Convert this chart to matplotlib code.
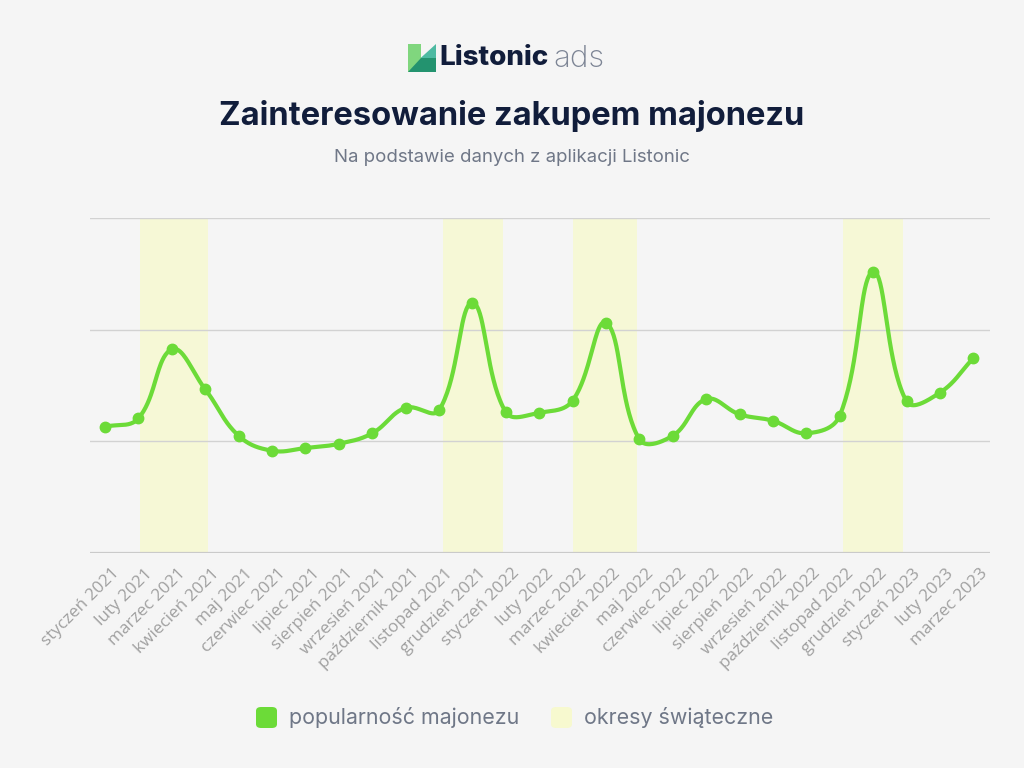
import numpy as np
import matplotlib
matplotlib.use('Agg')
import matplotlib.pyplot as plt
from matplotlib.patches import Polygon, FancyBboxPatch
from matplotlib.transforms import ScaledTranslation

# dane
months = ['styczeń 2021', 'luty 2021', 'marzec 2021', 'kwiecień 2021', 'maj 2021',
          'czerwiec 2021', 'lipiec 2021', 'sierpień 2021', 'wrzesień 2021',
          'październik 2021', 'listopad 2021', 'grudzień 2021', 'styczeń 2022',
          'luty 2022', 'marzec 2022', 'kwiecień 2022', 'maj 2022', 'czerwiec 2022',
          'lipiec 2022', 'sierpień 2022', 'wrzesień 2022', 'październik 2022',
          'listopad 2022', 'grudzień 2022', 'styczeń 2023', 'luty 2023', 'marzec 2023']
popularity = [56.5, 60.3, 91.2, 73.3, 52.5, 45.8, 47.0, 48.9, 53.6, 65.0, 63.9, 112.0,
              63.1, 62.8, 68.2, 103.1, 50.9, 52.5, 68.9, 62.1, 59.2, 53.6, 61.5, 125.9,
              67.9, 71.8, 87.2]
# okresy świąteczne (pozycje na osi miesięcy)
holiday_start = [1.06, 10.11, 14.01, 22.1]
holiday_end = [3.07, 11.92, 15.93, 23.9]

GREEN = '#6cdb38'
BAND = '#f6f8d6'
BG = '#f5f5f5'
NAVY = '#111d3b'
GRAY = '#6f7787'

W, H = 1024, 768
fig = plt.figure(figsize=(W / 100, H / 100), dpi=100, facecolor=BG)


def fx(px):
    return px / W


def fy(py):
    return 1 - py / H


# logo
lx0, lx1, ly0, ly1 = 408, 436, 44, 72
def lp(u, v):
    return (fx(lx0 + u * (lx1 - lx0)), fy(ly1 - v * (ly1 - ly0)))

fig.patches.append(Polygon([lp(0, 0), lp(0.45, 0), lp(0.45, 1), lp(0, 1)], closed=True,
                           transform=fig.transFigure, color='#80d67e', lw=0))
fig.patches.append(Polygon([lp(0, 0), lp(1, 0), lp(1, 0.5), lp(0.45, 0.5)], closed=True,
                           transform=fig.transFigure, color='#23936f', lw=0))
fig.patches.append(Polygon([lp(0.45, 0.5), lp(1, 1), lp(1, 0.5)], closed=True,
                           transform=fig.transFigure, color='#4dbaa2', lw=0))
fig.text(fx(439), fy(58), 'Listonic', fontsize=20, fontweight='heavy', color=NAVY,
         family='Inter', ha='left', va='center')
fig.text(fx(553), fy(59), 'ads', fontsize=22.5, fontweight='light', color='#7d8595',
         family='Inter', ha='left', va='center')

# tytuły
fig.text(0.5, fy(116), 'Zainteresowanie zakupem majonezu', fontsize=23.5,
         fontweight='bold', color=NAVY, family='Inter', ha='center', va='center')
fig.text(0.5, fy(157), 'Na podstawie danych z aplikacji Listonic', fontsize=13.4,
         color=GRAY, family='Inter', ha='center', va='center')

# wykres
ax = fig.add_axes([fx(90), fy(553), fx(990) - fx(90), fy(218) - fy(553)])
ax.set_facecolor(BG)
x = np.arange(len(popularity))
y = np.array(popularity, dtype=float)

for s, e in zip(holiday_start, holiday_end):
    ax.axvspan(s, e, color=BAND, lw=0, zorder=0)

# linia wygładzona (jak w Chart.js, tension 0.4)
sx, sy = 33.4, 111.7 / 50
P = np.column_stack([x * sx, y * sy])
t = 0.4
n = len(P)
cp_prev = P.copy()
cp_next = P.copy()
for i in range(n):
    p0 = P[max(i - 1, 0)]
    p1 = P[i]
    p2 = P[min(i + 1, n - 1)]
    d01 = np.hypot(*(p1 - p0))
    d12 = np.hypot(*(p2 - p1))
    tot = d01 + d12
    s01 = d01 / tot if tot else 0
    s12 = d12 / tot if tot else 0
    cp_prev[i] = p1 - t * s01 * (p2 - p0)
    cp_next[i] = p1 + t * s12 * (p2 - p0)
curve = []
tt = np.linspace(0, 1, 40)[:, None]
for i in range(n - 1):
    a, b, c, d = P[i], cp_next[i], cp_prev[i + 1], P[i + 1]
    seg = ((1 - tt) ** 3) * a + 3 * ((1 - tt) ** 2) * tt * b + 3 * (1 - tt) * tt ** 2 * c + tt ** 3 * d
    curve.append(seg)
curve = np.vstack(curve)
ax.plot(curve[:, 0] / sx, curve[:, 1] / sy, color=GREEN, lw=3, solid_capstyle='round', zorder=3)
ax.plot(x, y, 'o', color=GREEN, ms=7.5, zorder=4)

ax.set_xlim(-0.45, 26.5)
ax.set_ylim(0, 150)
ax.set_yticks([0, 50, 100, 150])
ax.set_yticklabels([])
ax.tick_params(axis='y', length=0)
ax.grid(axis='y', color='#d2d2d2', lw=1, zorder=1)
ax.axhline(0, color='#c9c9c9', lw=1.6, zorder=1)
ax.axhline(150, color='#e2e2e2', lw=1.2, zorder=1)
for sp in ax.spines.values():
    sp.set_visible(False)

ax.set_xticks(x)
ax.set_xticklabels(months, rotation=45, ha='right', va='top', rotation_mode='anchor',
                   fontsize=12.3, color='#a0a0a0', family='Open Sans')
ax.tick_params(axis='x', length=0, pad=9)
offset = ScaledTranslation(6 / 100, 0, fig.dpi_scale_trans)
for lab in ax.get_xticklabels():
    lab.set_transform(lab.get_transform() + offset)

# legenda
fig.patches.append(FancyBboxPatch((fx(256), fy(728)), fx(21), fy(707) - fy(728),
                                  boxstyle='round,pad=0,rounding_size=0.005',
                                  transform=fig.transFigure, color=GREEN, lw=0))
fig.text(fx(289), fy(718), 'popularność majonezu', fontsize=15.4, color=GRAY,
         family='Inter', ha='left', va='center')
fig.patches.append(FancyBboxPatch((fx(551), fy(728)), fx(21), fy(707) - fy(728),
                                  boxstyle='round,pad=0,rounding_size=0.005',
                                  transform=fig.transFigure, color='#f7f9cf', lw=0))
fig.text(fx(584), fy(718), 'okresy świąteczne', fontsize=15.4, color=GRAY,
         family='Inter', ha='left', va='center')

fig.savefig('out.png', dpi=100, facecolor=BG)
